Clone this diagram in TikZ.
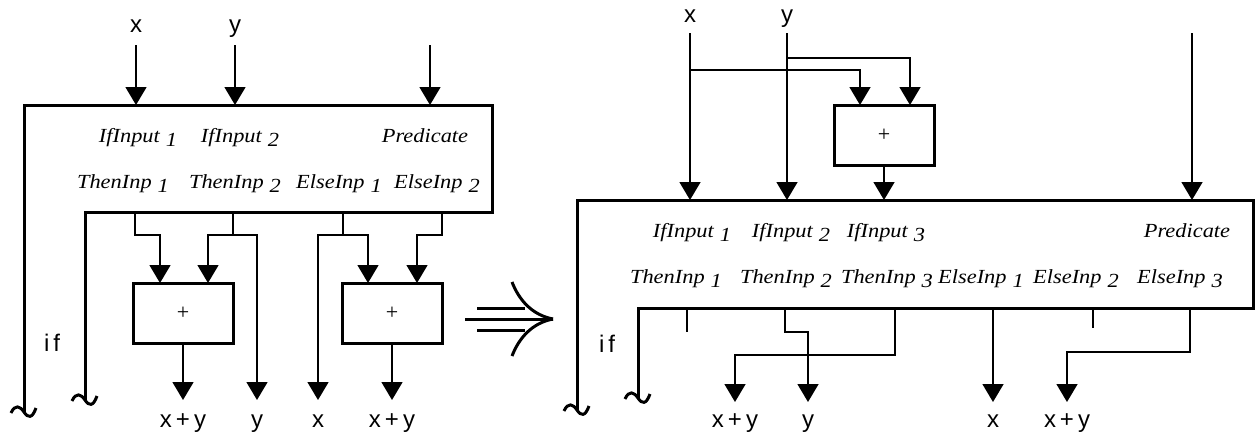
\documentclass[tikz,border=0pt]{standalone}
\usepackage{fontspec}
\setmainfont{Liberation Serif}
\setsansfont{Liberation Sans}
\newfontfamily\portfont[FakeStretch=1.12]{Liberation Serif}
\usetikzlibrary{arrows.meta, positioning}

\newcommand{\port}[2]{#1\hspace{0.3em}\raisebox{-0.45ex}{#2}}

\begin{document}
\begin{tikzpicture}[x=0.5pt, y=-0.5pt]
% Styles for the two if graphs
\tikzstyle{frame_line} = [line width=1.5pt]
\tikzstyle{plus_box} = [rectangle, draw=black, line width=1.5pt, minimum width=50pt, minimum height=30pt, font=\rmfamily\fontsize{11pt}{13pt}\selectfont]
\tikzstyle{port_text} = [inner sep=0pt, anchor=base, font=\portfont\itshape\fontsize{10pt}{12pt}\selectfont]
\tikzstyle{sig_text} = [inner sep=0pt, text height=1ex, text depth=0pt, font=\sffamily\fontsize{12pt}{14pt}\selectfont]
\tikzstyle{wire} = [line width=0.75pt]
\tikzstyle{arrow} = [line width=0.75pt, -{Triangle[width=10.5pt,length=9pt]}]
\tikzset{wiggle/.pic={\draw[line width=1.5pt] (-13,1) .. controls (-9,-8) and (-4,-6) .. (0,0) .. controls (4,6) and (8,7) .. (12,-4);}}
\useasboundingbox (0,0) rectangle (1259,440);

%%%%%%%%%%%%%%%% left graph %%%%%%%%%%%%%%%%
\draw [frame_line] (24,412) -- (24,105) -- (492,105) -- (492,212) -- (85,212) -- (85,400);
\pic at (24,412) {wiggle};
\pic at (85,400) {wiggle};
\node (l_if) [sig_text] at (52,347) {i\,f};

% port names
\node (l_ifin1) [port_text] at (138,142) {\port{IfInput}{1}};
\node (l_ifin2) [port_text] at (240,142) {\port{IfInput}{2}};
\node (l_predn) [port_text] at (425,142) {Predicate};
\node (l_then1n) [port_text] at (123,188) {\port{ThenInp}{1}};
\node (l_then2n) [port_text] at (235,188) {\port{ThenInp}{2}};
\node (l_else1n) [port_text] at (339,188) {\port{ElseInp}{1}};
\node (l_else2n) [port_text] at (437,188) {\port{ElseInp}{2}};

% inputs
\coordinate (l_x_src) at (136,45);
\coordinate (l_y_src) at (235,45);
\coordinate (l_p_src) at (430,45);
\coordinate (l_if1) at (136,105);
\coordinate (l_if2) at (235,105);
\coordinate (l_pred) at (430,105);
\node (l_x) [sig_text, above=6pt of l_x_src] {x};
\node (l_y) [sig_text, above=6pt of l_y_src] {y};
\draw [arrow] (l_x_src) -- (l_if1);
\draw [arrow] (l_y_src) -- (l_if2);
\draw [arrow] (l_p_src) -- (l_pred);

% adders and outputs
\coordinate (l_then1) at (135,212);
\coordinate (l_then2) at (233,212);
\coordinate (l_else1) at (343,212);
\coordinate (l_else2) at (442,212);
\node (l_add1) [plus_box] at (183,313) {+};
\node (l_add2) [plus_box] at (392,313) {+};
\coordinate (l_add1_a) at (160,283);
\coordinate (l_add1_b) at (208,283);
\coordinate (l_add2_a) at (368,283);
\coordinate (l_add2_b) at (417,283);
\coordinate (l_out1) at (183,400);
\coordinate (l_out2) at (257,400);
\coordinate (l_out3) at (318,400);
\coordinate (l_out4) at (392,400);

\draw [arrow] (l_then1) -- ++(0,23) -| (l_add1_a);
\draw [arrow] (l_then2) -- ++(0,23) -| (l_add1_b);
\draw [arrow] (l_then2) -- ++(0,23) -| (l_out2);
\draw [arrow] (l_else1) -- ++(0,23) -| (l_out3);
\draw [arrow] (l_else1) -- ++(0,23) -| (l_add2_a);
\draw [arrow] (l_else2) -- ++(0,23) -| (l_add2_b);
\draw [arrow] (l_add1) -- (l_out1);
\draw [arrow] (l_add2) -- (l_out4);

\node (l_res1) [sig_text, below=9pt of l_out1] {x\,+\,y};
\node (l_res2) [sig_text, below=9pt of l_out2] {y};
\node (l_res3) [sig_text, below=9pt of l_out3] {x};
\node (l_res4) [sig_text, below=9pt of l_out4] {x\,+\,y};

%%%%%%%%%%%%%%%% rewrite arrow %%%%%%%%%%%%%%%%
\coordinate (imp_tail) at (465,319);
\coordinate (imp_head) at (553,319);
\draw [frame_line] (imp_tail) -- (imp_head);
\draw [frame_line] ([xshift=6pt,yshift=5.5pt]imp_tail) -- ++(48,0);
\draw [frame_line] ([xshift=6pt,yshift=-5.5pt]imp_tail) -- ++(48,0);
\draw [frame_line] (imp_head) .. controls (532,315) and (519,300) .. (512,282);
\draw [frame_line] (imp_head) .. controls (532,323) and (519,338) .. (512,356);

%%%%%%%%%%%%%%%% right graph %%%%%%%%%%%%%%%%
\draw [frame_line] (577,410) -- (577,200) -- (1253,200) -- (1253,308) -- (638,308) -- (638,398);
\pic at (577,410) {wiggle};
\pic at (638,398) {wiggle};
\node (r_if) [sig_text] at (607,348) {i\,f};

% port names
\node (r_ifin1) [port_text] at (692,237) {\port{IfInput}{1}};
\node (r_ifin2) [port_text] at (791,237) {\port{IfInput}{2}};
\node (r_ifin3) [port_text] at (886,237) {\port{IfInput}{3}};
\node (r_predn) [port_text] at (1187,237) {Predicate};
\node (r_then1n) [port_text] at (676,283) {\port{ThenInp}{1}};
\node (r_then2n) [port_text] at (786,283) {\port{ThenInp}{2}};
\node (r_then3n) [port_text] at (887,283) {\port{ThenInp}{3}};
\node (r_else1n) [port_text] at (981,283) {\port{ElseInp}{1}};
\node (r_else2n) [port_text] at (1076,283) {\port{ElseInp}{2}};
\node (r_else3n) [port_text] at (1180,283) {\port{ElseInp}{3}};

% inputs
\coordinate (r_x_src) at (690,33);
\coordinate (r_y_src) at (787,33);
\coordinate (r_p_src) at (1192,33);
\coordinate (r_if1) at (690,200);
\coordinate (r_if2) at (787,200);
\coordinate (r_if3) at (884,200);
\coordinate (r_pred) at (1192,200);
\node (r_add) [plus_box] at (884,135) {+};
\coordinate (r_add_a) at (860,105);
\coordinate (r_add_b) at (910,105);
\node (r_x) [sig_text, above=5pt of r_x_src] {x};
\node (r_y) [sig_text, above=5pt of r_y_src] {y};
\draw [arrow] (r_x_src) -- (r_if1);
\draw [arrow] (r_y_src) -- (r_if2);
\draw [arrow] (r_p_src) -- (r_pred);
\draw [arrow] (r_x_src) ++(0,37) -| (r_add_a);
\draw [arrow] (r_y_src) ++(0,25) -| (r_add_b);
\draw [arrow] (r_add) -- (r_if3);

% outputs
\coordinate (r_then1) at (687,308);
\coordinate (r_then2) at (785,308);
\coordinate (r_then3) at (895,308);
\coordinate (r_else1) at (993,308);
\coordinate (r_else2) at (1093,308);
\coordinate (r_else3) at (1190,308);
\coordinate (r_out1) at (735,402);
\coordinate (r_out2) at (808,402);
\coordinate (r_out3) at (993,402);
\coordinate (r_out4) at (1067,402);

\draw [wire] (r_then1) -- ++(0,24);
\draw [arrow] (r_then2) -- ++(0,24) -| (r_out2);
\draw [arrow] (r_then3) -- ++(0,47) -| (r_out1);
\draw [arrow] (r_else1) -- (r_out3);
\draw [wire] (r_else2) -- ++(0,20);
\draw [arrow] (r_else3) -- ++(0,44) -| (r_out4);

\node (r_res1) [sig_text, below=8pt of r_out1] {x\,+\,y};
\node (r_res2) [sig_text, below=8pt of r_out2] {y};
\node (r_res3) [sig_text, below=8pt of r_out3] {x};
\node (r_res4) [sig_text, below=8pt of r_out4] {x\,+\,y};
\end{tikzpicture}
\end{document}
